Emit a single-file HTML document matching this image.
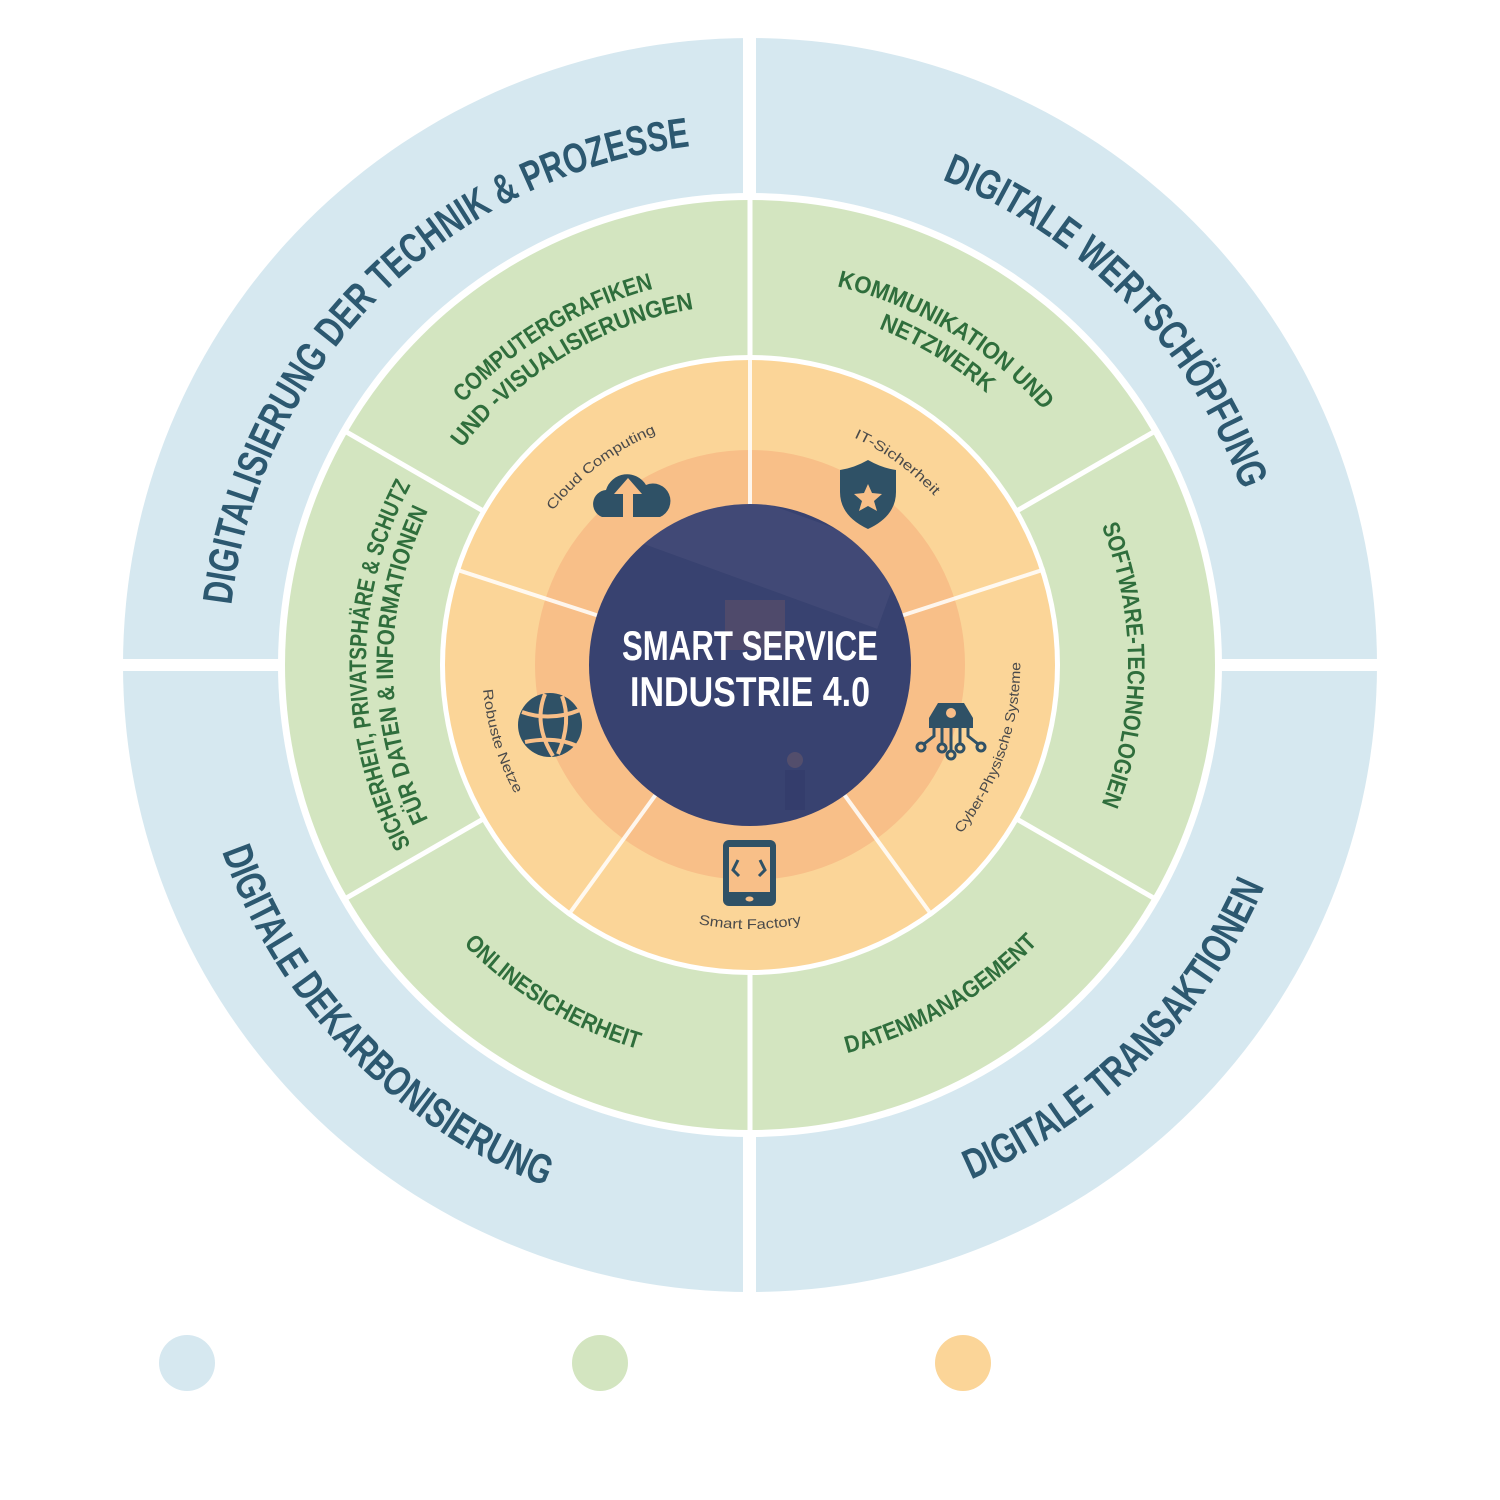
<!DOCTYPE html>
<html><head><meta charset="utf-8"><style>
html,body{margin:0;padding:0;background:#fff;}
svg{display:block}
.o{font-family:"Liberation Sans Narrow","Liberation Sans",sans-serif;font-weight:bold;font-size:42px;fill:#2c5870}
.g{font-family:"Liberation Sans Narrow","Liberation Sans",sans-serif;font-weight:bold;font-size:24px;fill:#2f6e3c}
.s{font-family:"Liberation Sans",sans-serif;font-size:14px;fill:#4a4a4a}
.c{font-family:"Liberation Sans Narrow","Liberation Sans",sans-serif;font-weight:bold;font-size:42px;fill:#fff}
</style></head><body>
<svg id="sv" width="1500" height="1500" viewBox="0 0 1500 1500" xmlns="http://www.w3.org/2000/svg">
<defs>
<path id="p1"/><path id="p2"/><path id="p3"/><path id="p4"/>
<path id="g1a"/><path id="g1b"/><path id="g2a"/><path id="g2b"/><path id="g3"/><path id="g4"/><path id="g5"/><path id="g6a"/><path id="g6b"/>
<path id="s1"/><path id="s2"/><path id="s3"/><path id="s4"/><path id="s5"/>
<clipPath id="cc"><circle cx="750" cy="665" r="161"/></clipPath>
</defs>
<circle cx="750" cy="665" r="627" fill="#d6e8f0"/>
<rect x="743" y="20" width="13" height="1300" fill="#fff"/>
<rect x="100" y="659" width="1300" height="12" fill="#fff"/>
<circle cx="750" cy="665" r="472" fill="#fff"/>
<circle cx="750" cy="665" r="465" fill="#d3e5c0"/>
<g id="glines" stroke="#fff" stroke-width="5"></g>
<circle cx="750" cy="665" r="310" fill="#fff"/>
<circle cx="750" cy="665" r="305" fill="#fbd598"/>
<circle cx="750" cy="665" r="215" fill="#f8bf88"/>
<g id="olines" stroke="#fff" stroke-width="4" stroke-opacity="0.85"></g>
<circle cx="750" cy="665" r="161" fill="#384270"/>
<g clip-path="url(#cc)" opacity="0.2">
<rect x="640" y="500" width="260" height="80" fill="#6a6a90" transform="rotate(20 750 540)"/>
<rect x="725" y="600" width="60" height="50" fill="#b0705a"/>
<circle cx="795" cy="760" r="8" fill="#c08060"/>
<rect x="785" y="770" width="20" height="40" fill="#2a3060"/>
</g>
<text class="c" x="750" y="660" text-anchor="middle" textLength="256" lengthAdjust="spacingAndGlyphs">SMART SERVICE</text>
<text class="c" x="750" y="706" text-anchor="middle" textLength="240" lengthAdjust="spacingAndGlyphs">INDUSTRIE 4.0</text>

<text class="o"><textPath href="#p1" startOffset="50%" text-anchor="middle" textLength="700" lengthAdjust="spacingAndGlyphs">DIGITALISIERUNG DER TECHNIK &amp; PROZESSE</textPath></text>
<text class="o"><textPath href="#p2" startOffset="50%" text-anchor="middle" textLength="445" lengthAdjust="spacingAndGlyphs">DIGITALE WERTSCHÖPFUNG</textPath></text>
<text class="o"><textPath href="#p3" startOffset="50%" text-anchor="middle" textLength="425" lengthAdjust="spacingAndGlyphs">DIGITALE TRANSAKTIONEN</textPath></text>
<text class="o"><textPath href="#p4" startOffset="50%" text-anchor="middle" textLength="480" lengthAdjust="spacingAndGlyphs">DIGITALE DEKARBONISIERUNG</textPath></text>

<text class="g"><textPath href="#g1a" startOffset="50%" text-anchor="middle" textLength="225" lengthAdjust="spacingAndGlyphs">COMPUTERGRAFIKEN</textPath></text>
<text class="g"><textPath href="#g1b" startOffset="50%" text-anchor="middle" textLength="277" lengthAdjust="spacingAndGlyphs">UND -VISUALISIERUNGEN</textPath></text>
<text class="g"><textPath href="#g2a" startOffset="50%" text-anchor="middle" textLength="245" lengthAdjust="spacingAndGlyphs">KOMMUNIKATION UND</textPath></text>
<text class="g"><textPath href="#g2b" startOffset="50%" text-anchor="middle" textLength="127" lengthAdjust="spacingAndGlyphs">NETZWERK</textPath></text>
<text class="g"><textPath href="#g3" startOffset="50%" text-anchor="middle" textLength="285" lengthAdjust="spacingAndGlyphs">SOFTWARE-TECHNOLOGIEN</textPath></text>
<text class="g"><textPath href="#g4" startOffset="50%" text-anchor="middle" textLength="223" lengthAdjust="spacingAndGlyphs">DATENMANAGEMENT</textPath></text>
<text class="g"><textPath href="#g5" startOffset="50%" text-anchor="middle" textLength="206" lengthAdjust="spacingAndGlyphs">ONLINESICHERHEIT</textPath></text>
<text class="g"><textPath href="#g6a" startOffset="50%" text-anchor="middle" textLength="375" lengthAdjust="spacingAndGlyphs">SICHERHEIT, PRIVATSPHÄRE &amp; SCHUTZ</textPath></text>
<text class="g"><textPath href="#g6b" startOffset="50%" text-anchor="middle" textLength="320" lengthAdjust="spacingAndGlyphs">FÜR DATEN &amp; INFORMATIONEN</textPath></text>

<text class="s"><textPath href="#s1" startOffset="50%" text-anchor="middle" textLength="131" lengthAdjust="spacingAndGlyphs">Cloud Computing</textPath></text>
<text class="s"><textPath href="#s2" startOffset="50%" text-anchor="middle" textLength="100" lengthAdjust="spacingAndGlyphs">IT-Sicherheit</textPath></text>
<text class="s"><textPath href="#s3" startOffset="50%" text-anchor="middle" textLength="185" lengthAdjust="spacingAndGlyphs">Cyber-Physische Systeme</textPath></text>
<text class="s"><textPath href="#s4" startOffset="50%" text-anchor="middle" textLength="104" lengthAdjust="spacingAndGlyphs">Smart Factory</textPath></text>
<text class="s"><textPath href="#s5" startOffset="50%" text-anchor="middle" textLength="110" lengthAdjust="spacingAndGlyphs">Robuste Netze</textPath></text>

<g fill="#2f5166">
<path d="M602 517 a14 14 0 0 1 4 -27 a22 22 0 0 1 40 -5 a14 14 0 0 1 14 32 z"/>
<path d="M628 478 l-14 16 h9 v24 h10 v-24 h9 z" fill="#f8bf88"/>
<path d="M840 470 q14 -2 28 -10 q14 8 28 10 v22 q0 24 -28 37 q-28 -13 -28 -37 z"/>
<path d="M868 484 l4 9 10 1 -8 7 3 10 -9 -5 -9 5 3 -10 -8 -7 10 -1 z" fill="#f8bf88"/>
<rect x="723" y="840" width="53" height="66" rx="6"/>
<rect x="729" y="847" width="41" height="45" fill="#f8bf88"/>
<ellipse cx="749.5" cy="899" rx="4" ry="2.5" fill="#f8bf88"/>
<path d="M929 718 l9 -15 h26 l9 15 v10 h-44 z"/>
<circle cx="951" cy="713" r="5" fill="#f8bd88"/>
</g>
<g stroke="#2f5166" stroke-width="3" fill="none">
<path d="M738 860 l-5 10 l6 6 M760 860 l5 10 l-6 6"/>
<path d="M934 728 v8 l-10 8 M942 728 v16 M951 728 v22 M960 728 v16 M968 728 v8 l10 8"/>
<circle cx="921" cy="747" r="4"/><circle cx="942" cy="748" r="4"/><circle cx="951" cy="755" r="4"/><circle cx="960" cy="748" r="4"/><circle cx="981" cy="747" r="4"/>
</g>
<circle cx="550" cy="725" r="32" fill="#2f5166"/>
<g stroke="#f8bf88" stroke-width="4" fill="none">
<path d="M522 712 q28 10 58 -2"/>
<path d="M525 742 q30 -6 52 4"/>
<path d="M545 694 q-12 30 8 62"/>
<path d="M562 696 q10 26 -4 58"/>
</g>

<circle cx="187" cy="1363" r="28" fill="#d6e8f0"/>
<circle cx="600" cy="1363" r="28" fill="#d3e5c0"/>
<circle cx="963" cy="1363" r="28" fill="#fbd598"/>
</svg>
<script>
var cx=750,cy=665;
function P(a,r){var t=a*Math.PI/180;return (cx+r*Math.cos(t)).toFixed(2)+" "+(cy+r*Math.sin(t)).toFixed(2);}
function circ(id,c,r,cw){var s=cw?1:0;var o=c+180;
document.getElementById(id).setAttribute("d","M"+P(o,r)+" A"+r+" "+r+" 0 1 "+s+" "+P(c,r)+" A"+r+" "+r+" 0 1 "+s+" "+P(o,r));}
circ("p1",-135,522,1);circ("p2",-44,522,1);circ("p3",45,560,0);circ("p4",136,560,0);
circ("g1a",-121,388,1);circ("g1b",-121,360,1);
circ("g2a",-59,388,1);circ("g2b",-59,360,1);
circ("g3",0,378,1);circ("g4",60,400,0);circ("g5",121,400,0);
circ("g6a",180,384,1);circ("g6b",180,357,1);
circ("s1",-127,250,1);circ("s2",-54,250,1);circ("s3",19,270,0);circ("s4",90,264,0);circ("s5",163,268,0);
var ns="http://www.w3.org/2000/svg";
function ln(g,a,r1,r2){var l=document.createElementNS(ns,"line");var t=a*Math.PI/180;
l.setAttribute("x1",cx+r1*Math.cos(t));l.setAttribute("y1",cy+r1*Math.sin(t));
l.setAttribute("x2",cx+r2*Math.cos(t));l.setAttribute("y2",cy+r2*Math.sin(t));document.getElementById(g).appendChild(l);}
[-150,-90,-30,30,90,150].forEach(function(a){ln("glines",a,300,470);});
[-90,-18,54,126,198].forEach(function(a){ln("olines",a,150,310);});
</script>
</body></html>
